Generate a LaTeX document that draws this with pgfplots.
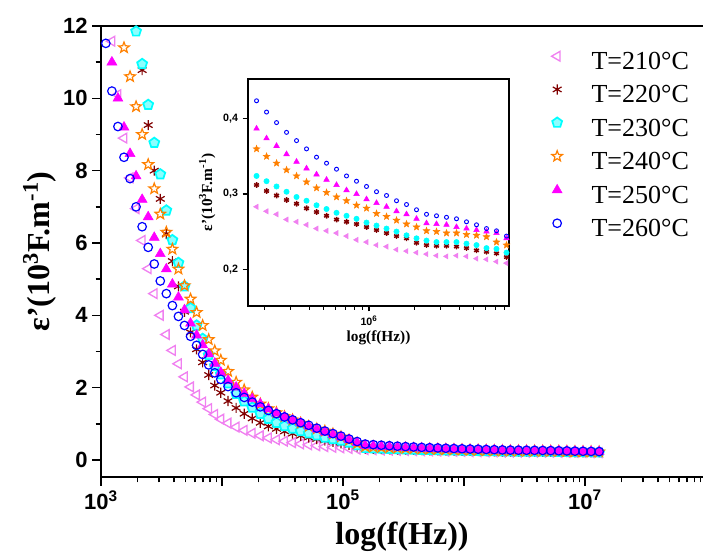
\documentclass[border=0pt]{standalone}
\usepackage{fontspec}
\setmainfont{Liberation Serif}
\newfontfamily\arial{Liberation Sans}
\usepackage{pgfplots}
\pgfplotsset{compat=1.18}
\usepackage{pgfplotstable}
\usetikzlibrary{plotmarks}

\pgfdeclareplotmark{ostar}{%
  \pgfpathmoveto{\pgfpointpolar{90}{\pgfplotmarksize}}%
  \pgfpathlineto{\pgfpointpolar{126}{0.42\pgfplotmarksize}}%
  \pgfpathlineto{\pgfpointpolar{162}{\pgfplotmarksize}}%
  \pgfpathlineto{\pgfpointpolar{198}{0.42\pgfplotmarksize}}%
  \pgfpathlineto{\pgfpointpolar{234}{\pgfplotmarksize}}%
  \pgfpathlineto{\pgfpointpolar{270}{0.42\pgfplotmarksize}}%
  \pgfpathlineto{\pgfpointpolar{306}{\pgfplotmarksize}}%
  \pgfpathlineto{\pgfpointpolar{342}{0.42\pgfplotmarksize}}%
  \pgfpathlineto{\pgfpointpolar{18}{\pgfplotmarksize}}%
  \pgfpathlineto{\pgfpointpolar{54}{0.42\pgfplotmarksize}}%
  \pgfpathclose
  \pgfusepathqstroke}
\pgfdeclareplotmark{ostar*}{%
  \pgfpathmoveto{\pgfpointpolar{90}{\pgfplotmarksize}}%
  \pgfpathlineto{\pgfpointpolar{126}{0.42\pgfplotmarksize}}%
  \pgfpathlineto{\pgfpointpolar{162}{\pgfplotmarksize}}%
  \pgfpathlineto{\pgfpointpolar{198}{0.42\pgfplotmarksize}}%
  \pgfpathlineto{\pgfpointpolar{234}{\pgfplotmarksize}}%
  \pgfpathlineto{\pgfpointpolar{270}{0.42\pgfplotmarksize}}%
  \pgfpathlineto{\pgfpointpolar{306}{\pgfplotmarksize}}%
  \pgfpathlineto{\pgfpointpolar{342}{0.42\pgfplotmarksize}}%
  \pgfpathlineto{\pgfpointpolar{18}{\pgfplotmarksize}}%
  \pgfpathlineto{\pgfpointpolar{54}{0.42\pgfplotmarksize}}%
  \pgfpathclose
  \pgfusepathqfillstroke}

\definecolor{cpink}{RGB}{240,128,240}
\definecolor{cwine}{RGB}{128,0,0}
\definecolor{ccyan}{RGB}{0,255,255}
\definecolor{corange}{RGB}{255,128,0}
\definecolor{cmag}{RGB}{255,0,255}
\definecolor{cblue}{RGB}{0,0,255}

% f, T=210 (a), 220 (b), 230 (c), 240 (d), 250 (e), 260 (g)
\pgfplotstableread{
f a b c d e g
1096.5 nan nan nan nan nan 11.52
1230.3 11.58 nan nan nan 11.0 10.2
1380.4 10.1 nan nan nan 10.0 9.22
1548.8 8.9 nan nan 11.4 9.2 8.37
1737.8 7.8 nan nan 10.6 8.47 7.78
1949.8 6.95 nan 11.85 9.77 7.85 7.0
2187.8 6.07 10.78 10.95 9.0 7.2 6.45
2454.7 5.29 9.26 9.82 8.17 6.72 5.88
2754.2 4.6 8.0 8.77 7.5 6.15 5.42
3090.3 4.0 7.22 7.9 6.8 5.7 4.95
3467.4 3.47 6.25 6.9 6.3 5.28 4.6
3890.5 3.03 5.5 6.08 5.83 4.86 4.27
4365.2 2.66 4.8 5.45 5.28 4.5 3.97
4897.8 2.3 4.1 4.8 4.82 4.15 3.72
5495.4 2.02 3.53 4.2 4.45 3.78 3.42
6166.0 1.8 3.06 3.72 4.08 3.45 3.17
6918.3 1.6 2.7 3.35 3.72 3.18 2.92
7762.5 1.42 2.35 2.9 3.33 2.93 2.63
8709.6 1.26 2.06 2.6 3.02 2.67 2.41
9772.4 1.13 1.86 2.37 2.76 2.42 2.23
11220 1.02 1.63 2.12 2.45 2.2 2.03
13082 0.91 1.44 1.83 2.15 2.01 1.86
15253 0.82 1.28 1.62 1.94 1.84 1.73
17783 0.74 1.15 1.45 1.74 1.69 1.6
20734 0.67 1.03 1.28 1.55 1.55 1.47
24173 0.61 0.93 1.14 1.42 1.41 1.37
28184 0.56 0.86 1.03 1.31 1.29 1.28
32860 0.52 0.79 0.94 1.2 1.19 1.19
38312 0.48 0.73 0.87 1.11 1.1 1.11
44668 0.445 0.67 0.8 1.02 1.02 1.03
52080 0.42 0.62 0.74 0.93 0.93 0.96
60720 0.395 0.58 0.68 0.86 0.85 0.88
70795 0.37 0.54 0.62 0.8 0.77 0.8
82540 0.35 0.5 0.58 0.72 0.7 0.73
96232 0.335 0.46 0.54 0.64 0.63 0.66
112200 0.32 0.42 0.48 0.55 0.56 0.58
130820 0.303 0.37 0.41 0.46 0.48 0.51
152530 0.287 0.319 0.334 0.373 0.401 0.441
177830 0.283 0.312 0.324 0.360 0.387 0.424
207340 0.277 0.304 0.317 0.350 0.374 0.409
241730 0.273 0.298 0.310 0.341 0.364 0.395
281840 0.266 0.292 0.303 0.332 0.353 0.382
328600 0.263 0.287 0.296 0.324 0.343 0.371
383120 0.259 0.281 0.291 0.316 0.334 0.360
446680 0.254 0.276 0.285 0.308 0.326 0.349
520800 0.251 0.271 0.280 0.302 0.319 0.341
607200 0.248 0.266 0.275 0.296 0.312 0.333
707950 0.244 0.263 0.271 0.291 0.305 0.324
825400 0.239 0.260 0.267 0.285 0.300 0.317
962320 0.236 0.256 0.262 0.281 0.293 0.310
1122000 0.232 0.252 0.258 0.274 0.288 0.303
1308200 0.230 0.248 0.254 0.270 0.283 0.298
1525300 0.226 0.244 0.250 0.265 0.277 0.291
1778300 0.224 0.241 0.245 0.260 0.273 0.286
2073400 0.222 0.235 0.241 0.256 0.267 0.279
2417300 0.220 0.232 0.238 0.251 0.261 0.273
2818400 0.218 0.231 0.236 0.250 0.260 0.271
3286000 0.217 0.231 0.236 0.248 0.259 0.269
3831200 0.218 0.230 0.236 0.248 0.256 0.267
4466800 0.217 0.228 0.234 0.246 0.254 0.263
5208000 0.214 0.225 0.232 0.245 0.252 0.259
6072000 0.213 0.223 0.228 0.243 0.250 0.254
7079500 0.210 0.221 0.227 0.236 0.248 0.251
8254000 0.208 0.216 0.222 0.232 0.241 0.244
9623200 0.206 0.214 0.220 0.229 0.238 0.240
11220000 0.204 0.212 0.218 0.227 0.235 0.236
13082000 0.202 0.210 0.216 0.225 0.232 0.232
}\data

\begin{document}
\begin{tikzpicture}
\begin{axis}[
  name=main,
  scale only axis,
  width=451.5pt, height=338.25pt,
  xmode=log,
  xmin=1e3, xmax=9.44e7,
  ymin=-0.47, ymax=12,
  axis x line*=box,
  axis y line*=left,
  axis line style={line width=1.5pt},
  tick align=outside,
  xtick pos=left, ytick pos=left,
  xtick={1e3,1e4,1e5,1e6,1e7},
  xticklabels={10\textsuperscript{3},{},10\textsuperscript{5},{},10\textsuperscript{7}},
  minor xtick={2e3,3e3,4e3,5e3,6e3,7e3,8e3,9e3,2e4,3e4,4e4,5e4,6e4,7e4,8e4,9e4,2e5,3e5,4e5,5e5,6e5,7e5,8e5,9e5,2e6,3e6,4e6,5e6,6e6,7e6,8e6,9e6,2e7,3e7,4e7,5e7,6e7,7e7,8e7,9e7},
  ytick={0,2,4,6,8,10,12},
  yticklabels={0,2,4,6,8,10,12},
  minor ytick={1,3,5,7,9,11},
  major tick length=6.5pt,
  minor tick length=4pt,
  every tick/.style={line width=1.2pt, black},
  ticklabel style={font=\arial\bfseries\fontsize{16.5}{18}\selectfont},
  xlabel={\bfseries log(f(Hz))},
  ylabel={\bfseries ε'(10\textsuperscript{3}F.m\textsuperscript{-1})},
  label style={font=\fontsize{24}{28}\selectfont},
  xlabel style={yshift=-2pt},
  ylabel style={yshift=-2pt},
  legend style={at={(0.748,0.945)}, anchor=north west, draw=none, fill=none,
    inner sep=0pt, row sep=6.9pt,
    font=\fontsize{19.5}{22}\selectfont,
    nodes={inner sep=0pt, text height=14pt, text depth=4pt}},
  legend cell align=left,
  legend image code/.code={\path (0cm,0cm) (1cm,0cm); \draw[#1] plot coordinates {(0.1cm,0.18cm)};},
]
\addplot[only marks, mark=triangle, mark size=4.2pt, mark options={rotate=90, draw=cpink, line width=1pt}] table[x=f,y=a] {\data};
\addlegendentry{T=210°C}
\addplot[only marks, mark=asterisk, mark size=3.8pt, mark options={draw=cwine, line width=0.9pt}] table[x=f,y=b] {\data};
\addlegendentry{T=220°C}
\addplot[only marks, mark=pentagon*, mark size=3.9pt, mark options={draw=ccyan, fill=ccyan!45!white, line width=1.3pt}] table[x=f,y=c] {\data};
\addlegendentry{T=230°C}
\addplot[only marks, mark=ostar, mark size=4.2pt, mark options={draw=corange, line width=0.9pt}] table[x=f,y=d] {\data};
\addlegendentry{T=240°C}
\addplot[only marks, mark=triangle*, mark size=4.3pt, mark options={draw=cmag, fill=cmag}] table[x=f,y=e] {\data};
\addlegendentry{T=250°C}
\addplot[only marks, mark=o, mark size=3.2pt, mark options={draw=cblue, line width=0.9pt}] table[x=f,y=g] {\data};
\addlegendentry{T=260°C}
\end{axis}

\begin{axis}[
  name=inset,
  at={(main.north west)}, anchor=north west,
  xshift=110.25pt, yshift=-39.75pt,
  scale only axis,
  width=195.75pt, height=170.25pt,
  axis background/.style={fill=white},
  xmode=log,
  xmin=1.56e5, xmax=8.58e6,
  ymin=0.151, ymax=0.453,
  axis line style={line width=1pt},
  tick align=outside,
  xtick pos=left, ytick pos=left,
  xtick={1e6},
  xticklabels={10\textsuperscript{6}},
  minor xtick={2e5,3e5,4e5,5e5,6e5,7e5,8e5,9e5,2e6,3e6,4e6,5e6,6e6,7e6,8e6},
  ytick={0.2,0.3,0.4},
  yticklabels={{0,2},{0,3},{0,4}},
  major tick length=4pt,
  minor tick length=3pt,
  every tick/.style={line width=0.8pt, black},
  ticklabel style={font=\arial\bfseries\fontsize{8}{9}\selectfont},
  xlabel={\bfseries log(f(Hz))},
  ylabel={\bfseries ε'(10\textsuperscript{3}F.m\textsuperscript{-1})},
  label style={font=\fontsize{11.5}{13}\selectfont},
  xlabel style={yshift=3pt},
  ylabel style={yshift=-1pt},
]
\addplot[only marks, mark=triangle*, mark size=2.2pt, mark options={rotate=90, draw=cpink, fill=cpink}] table[x=f,y=a] {\data};
\addplot[only marks, mark=asterisk, mark size=2.1pt, mark options={draw=cwine, line width=1.1pt}] table[x=f,y=b] {\data};
\addplot[only marks, mark=*, mark size=2.0pt, mark options={draw=ccyan, fill=ccyan}] table[x=f,y=c] {\data};
\addplot[only marks, mark=ostar*, mark size=2.6pt, mark options={draw=corange, fill=corange}] table[x=f,y=d] {\data};
\addplot[only marks, mark=triangle*, mark size=2.4pt, mark options={draw=cmag, fill=cmag}] table[x=f,y=e] {\data};
\addplot[only marks, mark=o, mark size=1.5pt, mark options={draw=cblue, line width=0.7pt}] table[x=f,y=g] {\data};
\end{axis}

\pgfresetboundingbox
\path[use as bounding box] ([shift={(-75.75pt,-56.25pt)}]main.south west) rectangle ([shift={(0.75pt,19.5pt)}]main.north east);
\end{tikzpicture}
\end{document}
